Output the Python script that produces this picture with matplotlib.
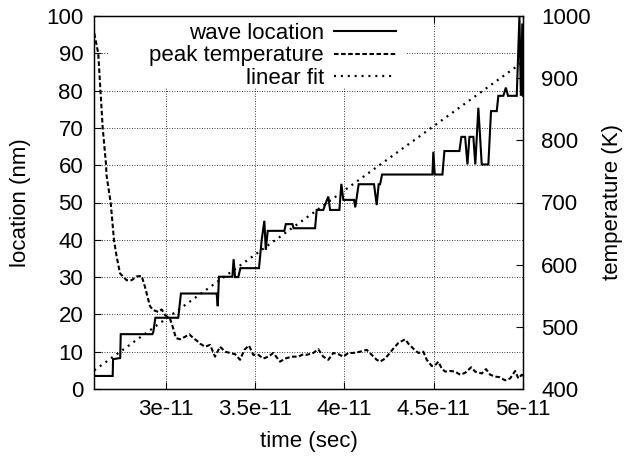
import matplotlib
matplotlib.use("Agg")
import matplotlib.pyplot as plt
from matplotlib.ticker import FixedLocator
from matplotlib.patches import Rectangle

plt.rcParams['font.family'] = ['Liberation Sans', 'DejaVu Sans']

# time in units of 1e-11 s
wave_t = [2.600, 2.703, 2.705, 2.745, 2.748, 2.925, 2.930, 2.942, 3.070, 3.085,
          3.285, 3.291, 3.298, 3.373, 3.380, 3.388, 3.406, 3.418, 3.522, 3.537,
          3.552, 3.560, 3.571, 3.664, 3.672, 3.709, 3.716, 3.836, 3.845, 3.882,
          3.890, 3.910, 3.920, 3.972, 3.983, 3.994, 4.054, 4.061, 4.080, 4.166,
          4.181, 4.192, 4.200, 4.211, 4.493, 4.498, 4.506, 4.549, 4.560, 4.644,
          4.655, 4.676, 4.689, 4.700, 4.722, 4.733, 4.750, 4.769, 4.806, 4.821,
          4.853, 4.862, 4.890, 4.904, 4.916, 4.965, 4.980, 4.988, 4.996, 5.000]
wave_loc = [3.5, 3.5, 8.0, 8.3, 14.7, 14.7, 15.2, 19.1, 19.1, 25.6,
            25.6, 22.2, 30.1, 30.1, 34.8, 30.0, 30.0, 32.4, 32.4, 39.9,
            45.1, 37.3, 42.4, 42.4, 44.2, 44.2, 43.1, 43.1, 48.0, 48.0,
            49.1, 51.6, 48.0, 48.0, 55.0, 50.7, 50.7, 48.7, 54.9, 54.9,
            49.3, 54.9, 54.9, 57.5, 57.5, 63.6, 57.5, 57.5, 63.8, 63.8,
            67.6, 67.6, 60.2, 67.6, 67.6, 60.2, 75.4, 60.2, 60.2, 74.5,
            74.5, 78.6, 78.6, 80.8, 78.6, 78.6, 100.0, 78.6, 98.0, 78.6]

temp_t = [2.600, 2.622, 2.647, 2.666, 2.668, 2.692, 2.710, 2.725, 2.744, 2.781,
          2.809, 2.837, 2.865, 2.884, 2.912, 2.930, 2.958, 2.977, 2.996, 3.024,
          3.039, 3.057, 3.080, 3.108, 3.132, 3.154, 3.182, 3.192, 3.220, 3.248,
          3.276, 3.304, 3.332, 3.360, 3.388, 3.416, 3.440, 3.466, 3.490, 3.518,
          3.546, 3.574, 3.602, 3.640, 3.668, 3.705, 3.742, 3.770, 3.789, 3.826,
          3.854, 3.882, 3.910, 3.938, 3.966, 3.994, 4.022, 4.050, 4.088, 4.125,
          4.153, 4.181, 4.200, 4.228, 4.246, 4.274, 4.302, 4.340, 4.358, 4.386,
          4.414, 4.442, 4.461, 4.489, 4.508, 4.526, 4.545, 4.564, 4.592, 4.620,
          4.648, 4.676, 4.710, 4.732, 4.769, 4.793, 4.816, 4.844, 4.868, 4.900,
          4.928, 4.956, 4.974, 4.993, 5.000]
temp_K = [972, 940, 820, 760, 745, 699, 640, 613, 586, 575,
          575, 581, 582, 564, 533, 527, 524, 528, 519, 513,
          500, 482, 480, 484, 488, 482, 476, 473, 468, 471,
          452, 468, 460, 458, 456, 447, 463, 470, 455, 455,
          449, 452, 458, 444, 449, 452, 452, 456, 455, 458,
          464, 452, 447, 458, 456, 452, 458, 458, 460, 463,
          455, 447, 444, 449, 455, 465, 474, 480, 473, 465,
          458, 460, 447, 437, 438, 444, 433, 428, 429, 428,
          423, 426, 435, 428, 425, 432, 423, 420, 419, 414,
          417, 429, 417, 423, 421]

fit_t = [2.6, 5.0]
fit_loc = [5.0, 87.7]

x_ticks = [3.0e-11, 3.5e-11, 4.0e-11, 4.5e-11, 5.0e-11]
x_labels = ["3e-11", "3.5e-11", "4e-11", "4.5e-11", "5e-11"]
loc_ticks = list(range(0, 101, 10))
temp_ticks = list(range(400, 1001, 100))

S = 1e-11
W, H = 626, 459
L, R, T, B = 94.3, 523, 16, 389

fig = plt.figure(figsize=(W / 100, H / 100), dpi=100)
ax = fig.add_axes([L / W, 1 - B / H, (R - L) / W, (B - T) / H])
ax2 = ax.twinx()

l1, = ax.plot([t * S for t in wave_t], wave_loc, color='black', lw=1.5,
              solid_joinstyle='miter', label='wave location', zorder=3)
l2, = ax2.plot([t * S for t in temp_t], temp_K, color='black', lw=1.5,
               linestyle=(0, (2.2, 1.2)), label='peak temperature', zorder=3)
l3, = ax.plot([t * S for t in fit_t], fit_loc, color='black', lw=1.6,
              linestyle=(0, (0.9, 2.2)), label='linear fit', zorder=3)

ax.set_xlim(2.6e-11, 5.0e-11)
ax.set_ylim(0, 100)
ax2.set_ylim(400, 1000)

ax.xaxis.set_major_locator(FixedLocator(x_ticks))
ax.set_xticklabels(x_labels)
ax.set_yticks(loc_ticks)
ax2.set_yticks(temp_ticks)

fs = 16
ax.tick_params(axis='x', direction='in', length=5, width=0.8, top=True, pad=7, labelsize=fs)
ax.tick_params(axis='y', direction='in', length=5, width=0.8, right=False, pad=8, labelsize=fs)
ax2.tick_params(axis='y', direction='in', length=5, width=0.8, pad=13, labelsize=fs)

ax.grid(True, which='major', color='black', linestyle=(0, (1, 2)), linewidth=0.6)

# white key area (gnuplot-style opaque key)
key_bg = Rectangle(((108 - L) / (R - L), (B - 88) / (B - T)),
                   (406 - 108) / (R - L), (88 - T) / (B - T),
                   transform=ax.transAxes, facecolor='white', edgecolor='none',
                   zorder=1.8)
ax.add_patch(key_bg)

for a in (ax, ax2):
    for sp in a.spines.values():
        sp.set_linewidth(0.9)

ax.set_xlabel('time (sec)', fontsize=fs, labelpad=8)
ax.set_ylabel('location (nm)', fontsize=fs, labelpad=11)
ax2.set_ylabel('temperature (K)', fontsize=fs, labelpad=8)

leg = ax2.legend(handles=[l1, l2, l3], loc='upper right',
                 bbox_to_anchor=((396 - L) / (R - L), (B - 23) / (B - T)),
                 markerfirst=False, frameon=False,
                 fontsize=fs, handlelength=2.8, handletextpad=0.45,
                 labelspacing=0.06, borderpad=0.0, borderaxespad=0.0)
for txt in leg.get_texts():
    txt.set_ha('right')
leg._legend_box.align = 'right'

fig.savefig('out.png', dpi=100)
